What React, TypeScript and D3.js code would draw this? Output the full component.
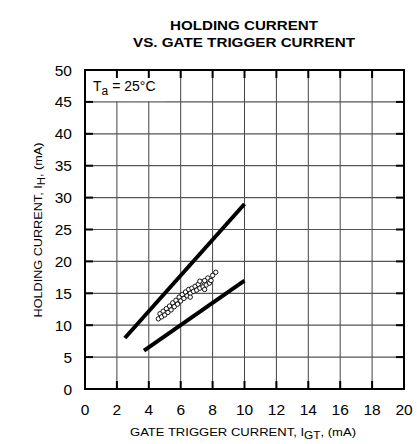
import React from "react";
import * as d3 from "d3";

const xTicks = [0, 2, 4, 6, 8, 10, 12, 14, 16, 18, 20];
const yTicks = [0, 5, 10, 15, 20, 25, 30, 35, 40, 45, 50];
const titleLines = ["HOLDING CURRENT", "VS. GATE TRIGGER CURRENT"];
// boundary lines (max / min)
const upperLine: [number, number][] = [[2.5, 8], [10, 29]];
const lowerLine: [number, number][] = [[3.7, 6], [10, 17]];
// measured samples
const sampleX = [4.6, 4.7, 4.8, 4.9, 5.0, 5.1, 5.2, 5.3, 5.4, 5.5, 5.6, 5.7, 5.8, 5.9, 6.0, 6.1, 6.2, 6.3, 6.4, 6.5, 6.6, 6.7, 6.8, 6.9, 7.0, 7.1, 7.2, 7.3, 7.4, 7.5, 7.6, 7.7, 7.8, 7.9, 8.0, 8.2, 7.5, 6.6, 7.2];
const sampleY = [11.0, 11.8, 11.3, 12.2, 11.6, 12.6, 12.0, 13.0, 12.4, 13.5, 12.9, 13.9, 13.3, 14.4, 13.8, 14.8, 14.2, 15.2, 14.6, 15.6, 15.0, 15.8, 15.3, 16.1, 15.5, 16.4, 15.8, 16.8, 16.0, 17.0, 16.3, 17.4, 16.6, 17.0, 17.8, 18.3, 15.6, 14.4, 16.9];

export default function App() {
  const W = 417, H = 444;
  const L = 85, R = 404, T = 70, B = 389;
  const x = d3.scaleLinear().domain([0, 20]).range([L, R]);
  const y = d3.scaleLinear().domain([0, 50]).range([B, T]);
  const line = d3.line<[number, number]>().x(d => x(d[0])).y(d => y(d[1]));
  const font = "'Liberation Sans', Arial, Helvetica, sans-serif";
  const tickLen = 8;
  return (
    <svg width={W} height={H} style={{ position: "absolute", left: 0, top: 0 }} fontFamily={font}>
      <rect x={0} y={0} width={W} height={H} fill="#fff" />
      {/* title */}
      {titleLines.map((t, i) => (
        <text key={t} x={244} y={30 + i * 16.5} textAnchor="middle" fontWeight="bold" fontSize={12.5}
          textLength={i === 0 ? 148 : 222} lengthAdjust="spacingAndGlyphs">{t}</text>
      ))}
      {/* grid */}
      {xTicks.slice(1, -1).map(v => (
        <line key={"gx" + v} x1={x(v)} x2={x(v)} y1={T} y2={B} stroke="#444" strokeWidth={1} />
      ))}
      {yTicks.slice(1, -1).map(v => (
        <line key={"gy" + v} x1={L} x2={R} y1={y(v)} y2={y(v)} stroke="#555" strokeWidth={1.2} />
      ))}
      {/* Ta label box */}
      <rect x={L + 1} y={T + 1} width={80} height={y(45) - T - 1.8} fill="#fff" />
      <text x={93} y={91} fontSize={14}>
        T<tspan fontSize={12} dy={4}>a</tspan><tspan dy={-4}> = 25°C</tspan>
      </text>
      {/* ticks */}
      {xTicks.slice(1, -1).map(v => (
        <g key={"tx" + v}>
          <line x1={x(v)} x2={x(v)} y1={B} y2={B - tickLen} stroke="#000" strokeWidth={2} />
          <line x1={x(v)} x2={x(v)} y1={T} y2={T + tickLen} stroke="#000" strokeWidth={2} />
        </g>
      ))}
      {yTicks.slice(1, -1).map(v => (
        <g key={"ty" + v}>
          <line x1={L} x2={L + tickLen} y1={y(v)} y2={y(v)} stroke="#000" strokeWidth={2} />
          <line x1={R} x2={R - tickLen} y1={y(v)} y2={y(v)} stroke="#000" strokeWidth={2} />
        </g>
      ))}
      {/* frame */}
      <rect x={L} y={T} width={R - L} height={B - T} fill="none" stroke="#000" strokeWidth={2} />
      {/* boundary lines */}
      <path d={line(upperLine) || ""} stroke="#000" strokeWidth={4} fill="none" />
      <path d={line(lowerLine) || ""} stroke="#000" strokeWidth={4} fill="none" />
      {/* samples */}
      {sampleX.map((v, i) => (
        <circle key={"p" + i} cx={x(v)} cy={y(sampleY[i])} r={2.2} fill="#fff" stroke="#000" strokeWidth={0.9} />
      ))}
      {/* tick labels */}
      {xTicks.map(v => (
        <text key={"lx" + v} x={x(v)} y={415} textAnchor="middle" fontSize={15.5}>{v}</text>
      ))}
      {yTicks.map(v => (
        <text key={"ly" + v} x={72} y={y(v) + 5.5} textAnchor="end" fontSize={15.5}>{v}</text>
      ))}
      {/* axis titles */}
      <text x={243} y={436} textAnchor="middle" fontSize={11} textLength={226} lengthAdjust="spacingAndGlyphs">
        GATE TRIGGER CURRENT, I<tspan fontSize={10} dy={3}>GT</tspan><tspan dy={-3}>, (mA)</tspan>
      </text>
      <text transform={`translate(42, 230) rotate(-90)`} textAnchor="middle" fontSize={11} textLength={175} lengthAdjust="spacingAndGlyphs">
        HOLDING CURRENT, I<tspan fontSize={10} dy={3}>H</tspan><tspan dy={-3}>, (mA)</tspan>
      </text>
    </svg>
  );
}
